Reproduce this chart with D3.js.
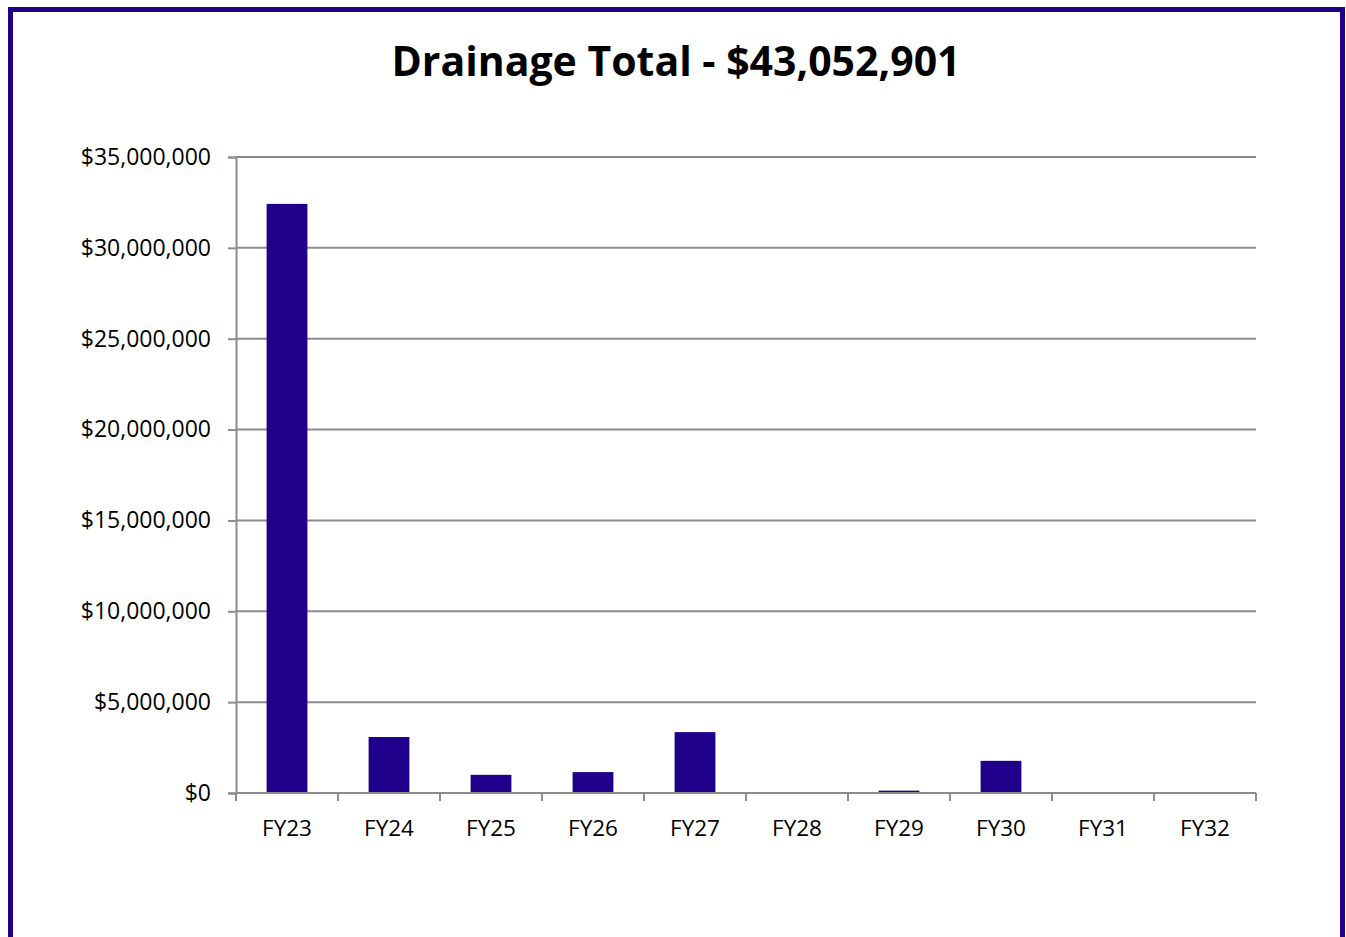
<!DOCTYPE html>
<html>
<head>
<meta charset="utf-8">
<script src="https://cdnjs.cloudflare.com/ajax/libs/d3/7.8.5/d3.min.js"></script>
<style>
  body { margin: 0; background: #fff; }
  svg { display: block; }
</style>
</head>
<body>
<div id="chart"></div>
<script>
// drainage spend by fiscal year
var years = ['FY23', 'FY24', 'FY25', 'FY26', 'FY27', 'FY28', 'FY29', 'FY30', 'FY31', 'FY32'];
var amounts = [32420000, 3080000, 1000000, 1150000, 3350000, 0, 130000, 1770000, 0, 0];
var yTicks = [0, 5000000, 10000000, 15000000, 20000000, 25000000, 30000000, 35000000];
var title = 'Drainage Total - $43,052,901';

var W = 1346, H = 937;
var barColor = '#20008a';
var gridColor = '#8c8c8c';
var font = '"Open Sans", "Liberation Sans", sans-serif';

var svg = d3.select('#chart')
    .append('svg')
    .attr('width', W)
    .attr('height', H)

// outer frame, bottom edge runs off the page
svg.append('rect')
    .attr('x', 10.5)
    .attr('y', 9.5)
    .attr('width', 1332)
    .attr('height', 960)
    .attr('fill', '#fff')
    .attr('stroke', barColor)
    .attr('stroke-width', 5)

svg.append('text')
    .attr('x', 676)
    .attr('y', 76)
    .attr('text-anchor', 'middle')
    .attr('font-family', font)
    .attr('font-weight', 'bold')
    .attr('font-size', '41px')
    .attr('fill', '#000')
    .text(title)

var plot = {left: 236, right: 1256, top: 157, bottom: 793};

var x = d3.scaleBand()
    .domain(years)
    .range([plot.left, plot.right])
    .paddingInner(0.6)
    .paddingOuter(0.3)

var xCat = d3.scaleBand()
    .domain(years)
    .range([plot.left, plot.right])

var y = d3.scaleLinear()
    .domain([0, 35000000])
    .range([plot.bottom, plot.top])

// gridlines
svg.append('g')
    .selectAll('line')
    .data(yTicks)
    .join('line')
    .attr('x1', plot.left)
    .attr('x2', plot.right)
    .attr('y1', d => y(d))
    .attr('y2', d => y(d))
    .attr('stroke', gridColor)
    .attr('stroke-width', 2)

var fmt = d => '$' + d3.format(',')(d);

var yAxis = svg.append('g')
    .attr('transform', 'translate(' + plot.left + ',0)')
    .call(d3.axisLeft(y).tickValues(yTicks).tickFormat(fmt).tickSize(8).tickPadding(17))
yAxis.select('.domain').attr('stroke', gridColor).attr('stroke-width', 2)
yAxis.selectAll('.tick line').attr('stroke', gridColor).attr('stroke-width', 2)
yAxis.selectAll('text')
    .attr('font-family', font)
    .attr('font-size', '23px')
    .attr('fill', '#000')

// bars
svg.append('g')
    .selectAll('rect')
    .data(amounts)
    .join('rect')
    .attr('x', (d, i) => x(years[i]))
    .attr('width', x.bandwidth())
    .attr('y', d => y(d))
    .attr('height', d => y(0) - y(d))
    .attr('fill', barColor)

// x axis with ticks on category boundaries
var xAxis = svg.append('g')
    .attr('transform', 'translate(0,' + plot.bottom + ')')
xAxis.append('line')
    .attr('x1', plot.left)
    .attr('x2', plot.right)
    .attr('stroke', gridColor)
    .attr('stroke-width', 2)
xAxis.selectAll('.tk')
    .data(years.concat(['end']))
    .join('line')
    .attr('class', 'tk')
    .attr('x1', (d, i) => plot.left + i * xCat.step())
    .attr('x2', (d, i) => plot.left + i * xCat.step())
    .attr('y1', 0)
    .attr('y2', 8)
    .attr('stroke', gridColor)
    .attr('stroke-width', 2)
xAxis.selectAll('text')
    .data(years)
    .join('text')
    .attr('x', d => xCat(d) + xCat.bandwidth() / 2)
    .attr('y', 43)
    .attr('text-anchor', 'middle')
    .attr('font-family', font)
    .attr('font-size', '22.5px')
    .attr('fill', '#000')
    .text(d => d)
</script>
</body>
</html>
